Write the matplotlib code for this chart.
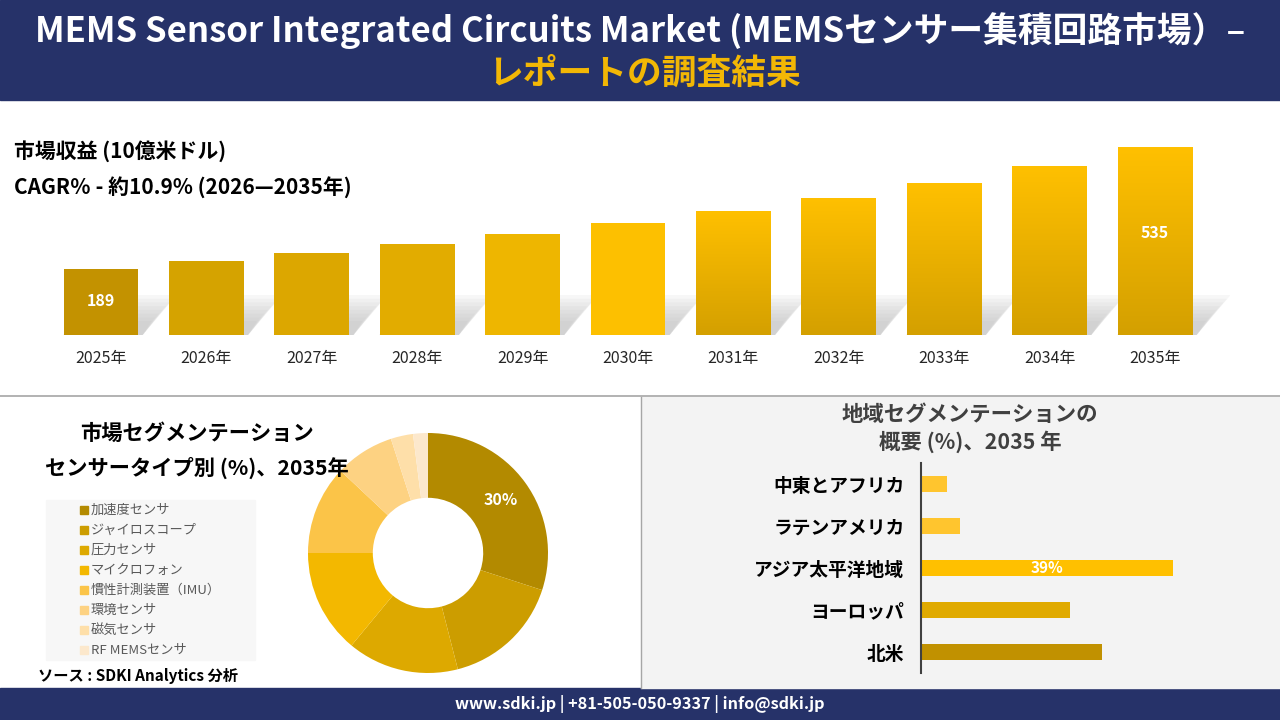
import matplotlib.pyplot as plt
import matplotlib.patches as mpatches
import numpy as np

plt.rcParams['font.family'] = ['Noto Sans CJK JP', 'DejaVu Sans']

#============================================================
# Datos
#============================================================

anios = ['2025年', '2026年', '2027年', '2028年', '2029年', '2030年',
         '2031年', '2032年', '2033年', '2034年', '2035年']
ingresos = [189, 211, 233, 259, 287, 319, 353, 390, 432, 481, 535]
etiquetas_ingresos = {0: '189', 10: '535'}
colores_barras = ['#C39200', '#D5A300', '#DCA700', '#E2AC00', '#EEB600', '#FDC000',
                  '#F5B900', '#F3B800', '#F1B700', '#F0B600', '#EFB500']

sensores = ['加速度センサ', 'ジャイロスコープ', '圧力センサ', 'マイクロフォン',
            '慣性計測装置（IMU）', '環境センサ', '磁気センサ', 'RF MEMSセンサ']
cuota_sensores = [30, 16, 15, 14, 12, 8, 3, 2]
colores_sensores = ['#B38A00', '#CC9D00', '#DDA900', '#F3B800',
                    '#FBC448', '#FDD282', '#FEDFA9', '#FCE8CC']

regiones = ['中東とアフリカ', 'ラテンアメリカ', 'アジア太平洋地域', 'ヨーロッパ', '北米']
cuota_regiones = [4, 6, 39, 23, 28]
colores_regiones = ['#FFC52E', '#FFC52E', '#FFC000', '#E0AA00', '#C19100']

NAVY = '#263269'
W, H = 1280, 720

#============================================================
# Figura y fondo
#============================================================

fig = plt.figure(figsize=(12.8, 7.2), dpi=100)
bg = fig.add_axes([0, 0, 1, 1], zorder=0)
bg.set_xlim(0, W)
bg.set_ylim(H, 0)
bg.axis('off')

bg.add_patch(mpatches.Rectangle((0, 0), W, 100, color=NAVY))
bg.add_patch(mpatches.Rectangle((0, 688), W, 32, color=NAVY))
bg.add_patch(mpatches.Rectangle((641, 397), 639, 291, color='#F3F3F3'))
bg.plot([0, W], [396, 396], color='#A6A6A6', lw=1.2)
bg.plot([640.5, 640.5], [397, 688], color='#A6A6A6', lw=1.0)
bg.add_patch(mpatches.Rectangle((46, 500), 209, 160, color='#F7F7F7'))


def txt(x, y, s, **kw):
    fig.text(x / W, 1 - y / H, s, **kw)


txt(640, 31, 'MEMS Sensor Integrated Circuits Market (MEMSセンサー集積回路市場）–',
    color='white', fontsize=25, fontweight='bold', ha='center', va='center')
txt(645, 73, 'レポートの調査結果', color='#F2B705', fontsize=25,
    fontweight='bold', ha='center', va='center')

txt(14, 151, '市場収益 (10億米ドル)', fontsize=15, fontweight='bold', va='center')
txt(14, 188, 'CAGR％ - 約10.9% (2026—2035年)', fontsize=15, fontweight='bold', va='center')

txt(640, 704, 'www.sdki.jp | +81-505-050-9337 | info@sdki.jp', color='white',
    fontsize=11.7, fontweight='bold', ha='center', va='center')

#============================================================
# Gráfico de barras de ingresos
#============================================================

x0, x1, yb, yt = 40, 1230, 335, 120
paso = 105.4
ax = fig.add_axes([x0 / W, 1 - yb / H, (x1 - x0) / W, (yb - yt) / H], zorder=1)
escala = 535 / 188
ax.patch.set_alpha(0)
ax.axis('off')

ancho = 0.71
pos = np.arange(len(anios))

# sombras suaves e inclinadas detrás de cada barra
for i, v in enumerate(ingresos):
    xl, xr = pos[i] - ancho / 2, pos[i] + ancho / 2
    for hs in np.linspace(14, 40, 8):
        h = min(hs * escala, v)
        dx = 0.29 * hs / 32
        ax.add_patch(mpatches.Polygon([(xl, 0), (xr + 0.04, 0), (xr + dx, h), (xl + dx, h)],
                                      closed=True, color='#B0B0B0', alpha=0.09,
                                      zorder=1, lw=0))
barras = ax.bar(pos, ingresos, width=ancho, color=colores_barras, zorder=2)

# degradado en las barras de 2031 a 2035
grad = np.linspace(0, 1, 100).reshape(-1, 1)
cmap = plt.matplotlib.colors.LinearSegmentedColormap.from_list('g', ['#D4A000', '#FFC000'])
for i in range(6, len(anios)):
    b = barras[i]
    im = ax.imshow(grad, cmap=cmap, aspect='auto', origin='lower', zorder=3,
                   extent=[b.get_x(), b.get_x() + b.get_width(), 0, b.get_height()])
    im.set_clip_path(b)
ax.set_xlim(-(101 - x0) / paso, 10 + (x1 - 1155) / paso)
ax.set_ylim(0, (yb - yt) * escala)

for i, s in etiquetas_ingresos.items():
    yl = 34 * escala if i == 0 else 102 * escala
    ax.text(pos[i], yl, s, color='white', fontsize=11.5, fontweight='bold',
            ha='center', va='center', zorder=5)
for i, s in enumerate(anios):
    ax.text(pos[i], -23 * escala, s, color='#262626', fontsize=11.5,
            ha='center', va='center', clip_on=False)

#============================================================
# Gráfico de anillo por tipo de sensor
#============================================================

txt(197, 433, '市場セグメンテーション', fontsize=15.3, fontweight='bold', ha='center', va='center')
txt(197, 468, 'センサータイプ別 (%)、2035年', fontsize=15.3, fontweight='bold',
    ha='center', va='center')

cx, cy, r = 428, 553, 120
axd = fig.add_axes([(cx - r) / W, 1 - (cy + r) / H, 2 * r / W, 2 * r / H], zorder=1)
axd.pie(cuota_sensores, colors=colores_sensores, startangle=90, counterclock=False,
        radius=1, wedgeprops=dict(width=0.54, linewidth=0))
axd.set_xlim(-1, 1)
axd.set_ylim(-1, 1)
axd.set_aspect('equal')
ang = np.deg2rad(90 - cuota_sensores[0] / 100 * 360 / 2)
axd.text(0.75 * np.cos(ang), 0.75 * np.sin(ang), f'{cuota_sensores[0]}%', color='white',
         fontsize=11.5, fontweight='bold', ha='center', va='center')

for k, (s, c) in enumerate(zip(sensores, colores_sensores)):
    yk = 510 + 20 * k
    bg.add_patch(mpatches.Rectangle((80, yk - 4), 8, 8, color=c))
    txt(91, yk, s, fontsize=9.5, color='#595959', va='center')

txt(38, 676, 'ソース : SDKI Analytics 分析', fontsize=11, fontweight='bold',
    fontstyle='italic', va='center')

#============================================================
# Barras horizontales por región
#============================================================

txt(970, 415, '地域セグメンテーションの', fontsize=15.4, fontweight='bold',
    color='#404040', ha='center', va='center')
txt(970, 442, '概要 (%)、2035 年', fontsize=15.4, fontweight='bold',
    color='#404040', ha='center', va='center')

ax_left, ax_top, ax_bot = 921, 463, 673
axr = fig.add_axes([ax_left / W, 1 - ax_bot / H, 320 / W, (ax_bot - ax_top) / H], zorder=1)
ypos = np.arange(len(regiones))[::-1]
axr.barh(ypos, cuota_regiones, height=0.4, color=colores_regiones)
axr.set_xlim(0, 320 * 39 / 252)
axr.set_ylim(-0.5, len(regiones) - 0.5)
axr.patch.set_alpha(0)
for s in ['top', 'right', 'bottom']:
    axr.spines[s].set_visible(False)
axr.spines['left'].set_color('#404040')
axr.spines['left'].set_linewidth(1.5)
axr.set_xticks([])
axr.set_yticks(ypos)
axr.set_yticklabels(regiones, fontsize=13.5, fontweight='bold', color='black')
axr.tick_params(axis='y', length=0, pad=12)
i_max = int(np.argmax(cuota_regiones))
axr.text(cuota_regiones[i_max] / 2, ypos[i_max], f'{cuota_regiones[i_max]}%',
         color='white', fontsize=11, fontweight='bold', ha='center', va='center')

plt.savefig('out.png', dpi=100)
